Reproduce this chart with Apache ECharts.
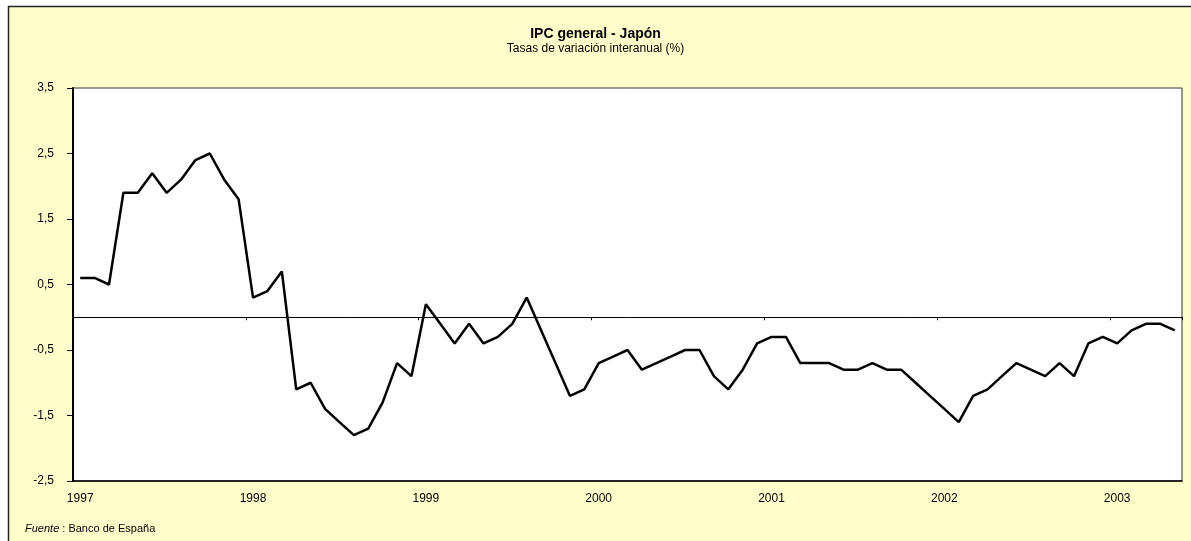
<!DOCTYPE html>
<html>
<head>
<meta charset="utf-8">
<script src="https://cdn.jsdelivr.net/npm/echarts@6/dist/echarts.min.js"></script>
<style>
  html, body { margin: 0; padding: 0; background: #fff; }
  #chart { width: 1191px; height: 541px; }
</style>
</head>
<body>
<div id="chart"></div>
<script>
// años del eje (datos mensuales ene-1997 .. may-2003)
var years = ['1997', '1998', '1999', '2000', '2001', '2002', '2003'];
var lastYearMonths = 5;

// IPC general Japón, tasa interanual (%)
var ipc = [
  0.6, 0.6, 0.5, 1.9, 1.9, 2.2, 1.9, 2.1, 2.4, 2.5, 2.1, 1.8,
  0.3, 0.4, 0.7, -1.1, -1.0, -1.4, -1.6, -1.8, -1.7, -1.3, -0.7, -0.9,
  0.2, -0.1, -0.4, -0.1, -0.4, -0.3, -0.1, 0.3, -0.2, -0.7, -1.2, -1.1,
  -0.7, -0.6, -0.5, -0.8, -0.7, -0.6, -0.5, -0.5, -0.9, -1.1, -0.8, -0.4,
  -0.3, -0.3, -0.7, -0.7, -0.7, -0.8, -0.8, -0.7, -0.8, -0.8, -1.0, -1.2,
  -1.4, -1.6, -1.2, -1.1, -0.9, -0.7, -0.8, -0.9, -0.7, -0.9, -0.4, -0.3,
  -0.4, -0.2, -0.1, -0.1, -0.2
];

var yMin = -2.5, yMax = 3.5, yStep = 1;

var months = [];
years.forEach(function (y, k) {
  var n = (k === years.length - 1) ? lastYearMonths : 12;
  for (var m = 1; m <= n; m++) {
    months.push(y + '-' + (m < 10 ? '0' + m : m));
  }
});

var chart = echarts.init(document.getElementById('chart'));
var font = 'Liberation Sans, Arial, sans-serif';

var option = {
  backgroundColor: '#ffffff',
  animation: false,
  title: {
    text: 'IPC general - Japón',
    subtext: 'Tasas de variación interanual (%)',
    left: 'center',
    top: 22,
    itemGap: 2,
    textStyle: { fontFamily: font, fontSize: 14, fontWeight: 'bold', color: '#000' },
    subtextStyle: { fontFamily: font, fontSize: 12, color: '#000' }
  },
  graphic: [
    {
      type: 'rect',
      z: -10,
      silent: true,
      shape: { x: 8.5, y: 6.5, width: 1200, height: 600 },
      style: { fill: '#FFFFCC', stroke: '#222', lineWidth: 1.5 }
    },
    {
      type: 'text',
      left: 25,
      top: 523,
      style: {
        text: '{i|Fuente} : Banco de España',
        font: '11px ' + font,
        fill: '#000',
        rich: { i: { fontStyle: 'italic', fontSize: 11, fontFamily: font, fill: '#000' } }
      }
    }
  ],
  grid: {
    left: 73, right: 9, top: 88, bottom: 60,
    show: true,
    backgroundColor: '#ffffff',
    borderColor: '#333',
    borderWidth: 1
  },
  xAxis: [
    {
      type: 'category',
      data: months,
      position: 'bottom',
      boundaryGap: true,
      axisLine: { onZero: false, lineStyle: { color: '#000', width: 1.5 } },
      axisTick: { show: false },
      axisLabel: {
        interval: 11,
        margin: 12,
        fontFamily: font,
        fontSize: 12,
        color: '#000',
        formatter: function (v) { return v.slice(0, 4); }
      },
      splitLine: { show: false }
    },
    {
      type: 'category',
      data: months,
      position: 'bottom',
      boundaryGap: true,
      axisLine: { onZero: true, lineStyle: { color: '#000', width: 1 } },
      axisTick: { show: true, interval: 11, length: 3, lineStyle: { color: '#000' } },
      axisLabel: { show: false },
      splitLine: { show: false }
    }
  ],
  yAxis: {
    type: 'value',
    min: yMin,
    max: yMax,
    interval: yStep,
    axisLine: { show: true, onZero: false, lineStyle: { color: '#000', width: 2 } },
    axisTick: { show: true, length: 6, lineStyle: { color: '#000' } },
    axisLabel: {
      margin: 19,
      fontFamily: font,
      fontSize: 12,
      color: '#000',
      formatter: function (v) { return v.toFixed(1).replace('.', ','); }
    },
    splitLine: { show: false }
  },
  series: [
    {
      name: 'IPC general',
      type: 'line',
      xAxisIndex: 0,
      data: ipc,
      symbol: 'none',
      lineStyle: { color: '#000', width: 2.5 },
      z: 5
    }
  ]
};

chart.setOption(option);
</script>
</body>
</html>
